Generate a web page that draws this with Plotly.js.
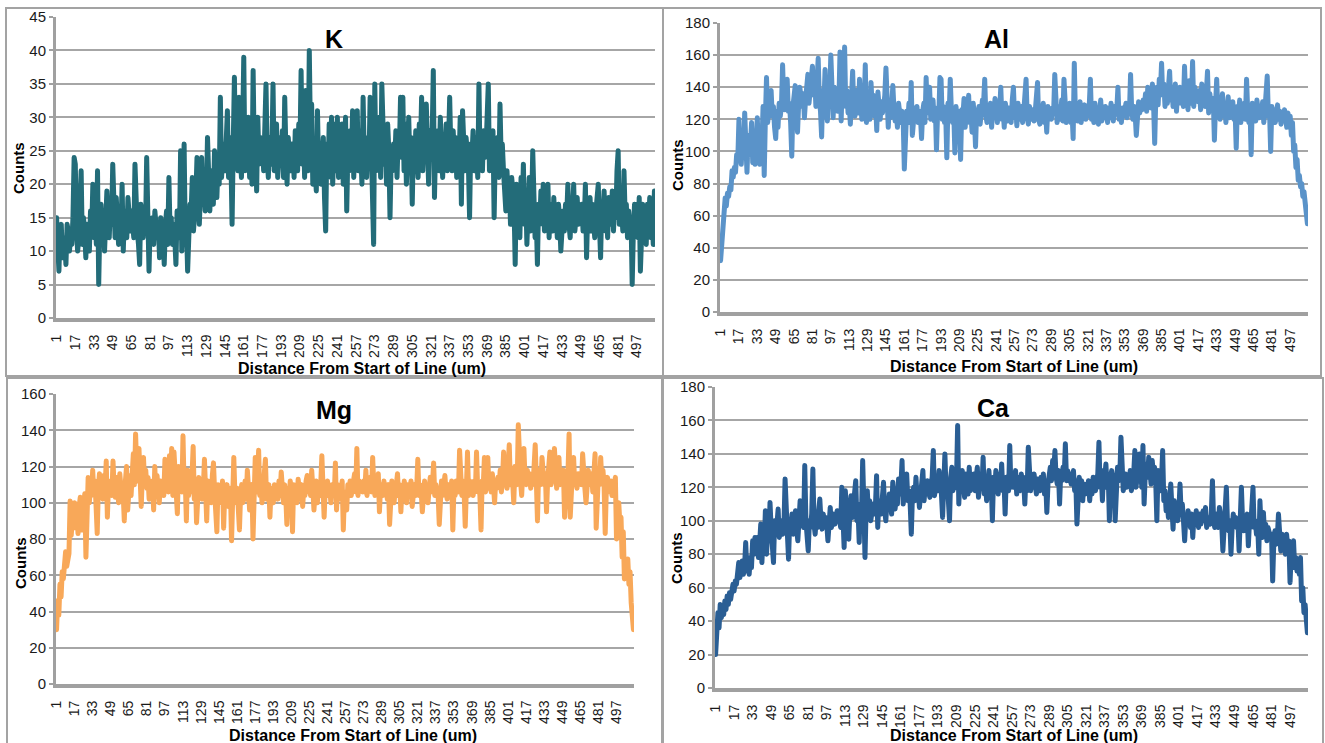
<!DOCTYPE html>
<html>
<head>
<meta charset="utf-8">
<script src="https://cdn.plot.ly/plotly-3.0.1.min.js"></script>
<style>
html,body{margin:0;padding:0;background:#fff;}
#chart{width:1325px;height:743px;}
.scatterlayer .js-line{stroke-linejoin:round !important;stroke-linecap:round !important;}
</style>
</head>
<body>
<div id="chart"></div>
<script>
// Counts along the line (one value per distance step, 1..512 um)
const K_counts = [
15,12,7,13,14,9,12,11,8,14,13,10,12,11,15,24,
23,13,10,12,16,22,11,15,13,9,14,12,10,16,13,20,
12,15,11,22,5,14,17,12,16,10,13,19,15,12,17,14,
23,16,12,18,14,11,15,13,20,10,16,14,12,18,15,13,
16,14,12,23,15,13,11,8,17,14,12,16,13,24,10,7,
14,12,15,11,16,13,12,14,9,15,12,13,8,14,16,11,
21,13,15,11,14,12,8,16,13,12,25,10,14,26,12,14,
7,14,17,16,21,13,15,18,24,15,14,19,24,17,20,16,
18,27,19,16,22,20,17,25,21,18,23,20,33,21,24,26,
22,25,31,21,27,24,14,26,36,23,29,22,33,25,21,28,
39,22,27,24,30,21,26,20,37,24,28,19,30,23,27,25,
26,22,28,35,24,21,27,23,25,35,22,26,29,21,24,27,
23,28,21,33,25,20,27,24,22,26,26,21,28,24,22,29,
25,37,23,28,21,34,26,22,40,27,32,20,25,23,19,31,
22,26,20,24,27,18,13,26,21,29,23,30,20,25,29,22,
30,21,27,24,29,20,26,30,16,25,22,28,23,31,21,27,
24,31,22,28,25,20,33,24,27,21,26,23,33,25,22,11,
35,22,28,24,30,21,35,26,23,27,20,29,25,15,24,22,
26,23,28,21,27,25,33,24,33,22,29,20,26,30,23,27,
17,26,22,28,24,21,29,25,33,22,27,24,32,23,20,28,
24,27,37,18,26,23,28,22,30,25,21,27,24,29,22,26,
33,25,22,28,24,27,21,26,23,30,17,31,25,22,27,24,
23,15,26,24,28,22,27,25,21,35,23,26,22,28,24,25,
29,35,22,26,24,28,15,25,23,27,21,32,24,26,22,20,
16,22,18,20,14,21,19,17,8,20,15,18,12,21,16,23,
14,19,11,17,21,13,16,25,18,12,15,8,17,14,19,16,
20,13,16,14,20,12,17,15,13,18,14,16,12,17,15,10,
14,16,13,17,15,20,14,12,17,16,20,13,15,18,14,16,
15,17,13,14,20,9,16,14,18,13,17,15,12,16,19,20,
14,9,17,15,19,13,16,12,18,15,14,19,13,17,15,22,
25,14,18,16,13,22,15,17,12,16,14,15,5,13,17,14,
17,12,18,7,15,17,13,16,11,17,14,18,12,16,11,19
];
const Al_counts = [
32,44,52,62,71,66,74,72,78,76,88,84,90,87,98,95,
120,100,92,108,97,124,95,87,110,98,104,118,93,100,92,106,
121,95,92,110,104,128,85,120,146,118,125,130,138,122,128,115,
108,125,115,130,122,128,154,132,126,138,145,125,130,118,97,128,
135,141,125,112,130,140,134,128,136,121,132,140,148,130,137,142,
153,135,145,128,140,158,132,125,109,138,130,151,126,119,142,135,
160,128,121,140,132,136,125,130,162,119,145,135,165,128,138,124,
130,117,136,150,126,122,138,130,124,145,128,120,134,126,154,118,
132,125,120,143,128,135,122,130,113,137,126,120,131,124,128,135,
152,125,115,130,121,128,141,126,119,124,115,130,122,118,125,120,
89,112,125,118,130,120,143,110,124,127,121,128,118,125,122,108,
125,130,118,146,124,128,140,120,126,132,119,127,101,125,122,146,
145,120,128,118,124,96,130,122,145,125,118,126,99,128,120,125,
118,95,126,122,133,115,128,120,135,118,124,112,130,121,103,126,
120,128,117,124,132,130,145,122,118,127,121,130,115,126,124,133,
122,118,128,125,140,120,126,115,130,123,119,127,124,118,132,140,
121,127,116,130,124,120,128,118,125,135,145,122,117,128,124,120,
126,119,125,131,143,120,117,127,122,130,118,125,112,128,121,126,
120,127,124,148,121,118,128,125,120,132,119,145,124,118,126,122,
130,118,125,108,155,122,127,119,124,131,118,126,122,129,120,125,
122,128,145,120,125,118,130,123,127,117,124,132,119,126,121,128,
124,118,127,121,130,125,119,128,123,126,140,120,125,118,127,122,
126,130,121,128,124,148,125,120,128,123,110,127,131,124,130,126,
132,128,136,125,140,131,138,127,142,130,105,134,140,129,145,138,
155,135,142,128,138,130,145,150,132,140,128,136,142,125,138,134,
140,130,138,128,153,132,140,126,144,135,130,156,128,140,133,137,
131,138,126,142,130,135,128,137,150,124,136,130,128,133,107,129,
145,125,131,120,128,136,122,130,118,127,134,121,129,124,131,120,
126,102,128,122,132,118,127,124,130,120,145,125,118,127,98,130,
123,128,119,132,125,121,128,124,131,118,126,145,147,122,125,100,
128,120,126,118,124,129,120,125,117,123,119,126,121,115,124,118,
122,110,118,100,104,90,95,82,85,78,80,72,75,66,60,55
];
const Mg_counts = [
30,46,38,55,48,62,58,68,73,65,70,72,101,82,92,86,
100,88,95,83,98,103,85,92,97,105,70,102,114,100,108,104,
118,105,112,98,83,108,116,104,110,102,115,108,123,92,110,106,
112,104,123,108,103,114,106,100,116,110,102,105,90,112,120,96,
108,115,104,112,127,110,138,118,112,130,106,98,115,125,110,118,
108,114,102,112,106,110,96,120,104,115,108,100,112,106,110,104,
124,110,118,106,126,112,130,104,128,115,108,94,120,110,116,106,
137,108,112,90,118,104,110,106,115,131,102,112,89,108,114,104,
110,102,108,124,96,90,112,104,108,100,115,122,106,98,84,110,
104,108,100,112,86,106,102,110,98,104,108,79,112,125,104,100,
108,96,85,104,110,100,106,112,102,118,108,96,104,110,80,104,
125,106,112,129,104,110,100,108,114,124,102,106,110,92,108,104,
100,110,106,108,102,112,104,117,106,100,110,104,88,108,102,112,
106,84,110,104,108,100,113,106,102,110,98,108,104,112,115,106,
110,104,118,108,96,106,112,100,108,104,110,126,102,92,108,106,
112,104,108,100,110,106,104,122,96,110,104,108,102,112,85,106,
104,96,110,106,112,104,108,110,116,106,130,104,112,108,110,106,
112,106,118,104,110,108,114,106,125,110,104,112,108,116,95,108,
110,104,112,106,108,102,110,88,104,112,106,100,108,110,116,104,
110,95,108,104,112,106,100,110,104,108,112,98,106,110,104,108,
124,104,110,106,95,108,112,104,110,100,108,114,106,110,122,104,
110,106,104,88,108,112,104,110,115,106,102,110,108,104,112,85,
108,104,112,110,106,129,108,104,112,106,87,110,128,104,112,108,
110,104,112,106,128,108,110,104,85,112,110,125,106,110,125,108,
112,106,116,110,100,112,108,114,110,118,106,112,128,110,114,108,
116,132,110,118,112,100,120,114,110,143,116,112,104,118,130,112,
110,118,112,116,108,114,110,120,132,112,90,118,114,110,125,116,
110,116,95,112,118,128,110,114,116,130,112,108,118,125,110,114,
112,118,92,110,114,116,138,92,112,118,125,110,114,108,116,112,
116,110,127,112,108,100,114,118,110,112,116,106,114,127,86,112,
116,110,125,112,118,110,83,108,114,106,110,112,104,108,110,114,
80,96,100,88,92,70,84,58,66,62,69,55,62,45,38,30
];
const Ca_counts = [
20,30,45,36,50,42,48,44,52,47,55,50,57,53,60,62,
58,64,62,68,75,66,70,76,68,72,87,70,74,68,78,72,
88,80,90,84,90,78,86,98,75,92,85,106,80,95,88,111,
95,88,75,100,92,98,107,90,95,100,92,96,125,98,92,77,
100,96,104,92,98,106,95,88,100,112,98,104,96,133,100,93,
82,100,96,104,131,98,92,102,96,106,113,100,95,104,98,102,
98,88,104,108,96,100,104,98,102,106,105,100,96,120,102,84,
118,104,100,89,106,115,102,108,112,124,100,106,87,110,104,136,
110,78,108,118,104,112,100,106,110,104,108,127,96,112,108,104,
114,123,106,100,112,108,116,110,104,123,112,107,114,110,125,116,
120,136,110,118,114,128,112,118,110,92,116,120,112,126,114,118,
108,118,122,130,112,120,116,124,118,114,122,126,142,115,120,124,
118,130,122,116,102,120,140,118,124,112,100,126,132,118,122,120,
124,157,110,126,118,130,122,114,128,120,116,132,118,124,120,128,
118,126,132,114,122,128,120,138,116,124,112,126,130,118,122,100,
126,118,130,122,116,128,120,134,118,124,104,126,122,118,145,120,
128,120,124,130,116,126,122,118,128,120,124,110,126,118,144,122,
118,126,120,128,124,116,125,122,118,126,120,128,116,124,105,122,
128,132,124,136,130,142,126,122,130,110,128,124,132,126,146,124,
130,124,128,122,126,130,118,124,98,120,126,118,124,112,122,116,
120,118,124,112,122,116,126,120,118,124,128,147,120,126,112,130,
126,134,120,128,100,124,130,126,122,100,128,132,124,126,150,122,
118,124,128,120,126,122,130,118,124,128,142,120,126,130,140,124,
120,145,110,128,134,126,138,130,122,136,128,132,124,100,130,126,
118,124,142,112,118,106,110,102,115,122,108,95,112,104,110,100,
106,122,104,110,100,88,102,98,106,100,96,104,90,102,98,106,
100,96,104,98,102,106,100,108,96,102,100,98,104,124,100,96,
104,100,96,108,102,98,82,100,106,120,98,94,100,80,96,104,
98,102,96,100,82,106,120,100,94,98,102,104,85,100,96,104,
120,96,100,92,98,80,112,96,90,105,92,98,88,96,94,90,
92,64,88,94,86,90,104,88,82,92,86,90,80,92,84,88,
63,80,76,88,72,78,70,74,68,78,52,60,45,50,40,33
];
const tickLabels = [1,17,33,49,65,81,97,113,129,145,161,177,193,209,225,241,257,273,289,305,321,337,353,369,385,401,417,433,449,465,481,497];
const elementNames = ['K','Al','Mg','Ca'];
const xTitle = 'Distance From Start of Line (um)';
const yTitle = 'Counts';

const W = 1325, H = 743;
const px = x => x / W;
const py = y => 1 - y / H;

const series = [K_counts, Al_counts, Mg_counts, Ca_counts];
const colors = ['#236c79', '#5a93c9', '#f8a859', '#2a5e94'];
const yMax = [45, 180, 160, 180];
const yStep = [5, 20, 20, 20];
// plot areas in pixels [left,right,top,bottom]
const boxes = [[56,655,17,318],[720,1308,23,312],[56,634,394,684],[715,1308,387,688]];
const frames = [[6,663,8,376],[663,1321,8,376],[7,662,378,760],[663,1323,378,760]];
const titlePos = [[334,39],[996,39],[334,410],[993,408]];
const xTitlePos = [[362,368],[1014,367],[353,735],[1014,735]];
const yTitlePos = [[18,168],[677,165],[20,563],[676,558]];

const traces = [];
const layout = {
  width: W, height: H,
  margin: {l:0, r:0, t:0, b:0},
  paper_bgcolor: '#fff', plot_bgcolor: '#fff',
  showlegend: false,
  font: {family: 'Arial, "Liberation Sans", sans-serif', color: '#1a1a1a'},
  shapes: [], annotations: []
};
const gridCol = '#a6a6a6';
series.forEach((vals, k) => {
  const n = k === 0 ? '' : String(k + 1);
  const distance = vals.map((_, i) => i + 1);
  traces.push({
    type: 'scatter', mode: 'lines', x: distance, y: vals,
    xaxis: 'x' + n, yaxis: 'y' + n,
    line: {color: colors[k], width: 5},
    hoverinfo: 'skip'
  });
  const b = boxes[k];
  layout['xaxis' + n] = {
    domain: [px(b[0]), px(b[1])], anchor: 'y' + n,
    range: [0.5, vals.length + 0.5], type: 'linear',
    tickmode: 'array', tickvals: tickLabels, ticktext: tickLabels.map(String),
    tickangle: -90, tickfont: {size: 14, color: '#1a1a1a'},
    ticklabelstandoff: 7,
    showgrid: false, zeroline: false,
    showline: true, linecolor: '#a0a0a0', linewidth: 4,
    ticks: '', fixedrange: true
  };
  layout['yaxis' + n] = {
    domain: [py(b[3]), py(b[2])], anchor: 'x' + n,
    range: [0, yMax[k]], dtick: yStep[k], tick0: 0,
    tickfont: {size: 15, color: '#1a1a1a'},
    showgrid: true, gridcolor: gridCol, gridwidth: 2,
    zeroline: false, showline: true, linecolor: '#a0a0a0', linewidth: 3,
    ticks: 'outside', ticklen: 4, tickwidth: 2, tickcolor: '#a0a0a0',
    fixedrange: true
  };
  const f = frames[k];
  layout.shapes.push({type: 'rect', xref: 'paper', yref: 'paper',
    x0: px(f[0]), x1: px(f[1]), y0: py(f[3]), y1: py(f[2]),
    line: {color: '#a3a3a3', width: 2}, fillcolor: 'rgba(0,0,0,0)', layer: 'below'});
  layout.annotations.push({xref: 'paper', yref: 'paper', x: px(titlePos[k][0]), y: py(titlePos[k][1]),
    xanchor: 'center', yanchor: 'middle', showarrow: false,
    text: '<b>' + elementNames[k] + '</b>', font: {size: 25, color: '#000'}});
  layout.annotations.push({xref: 'paper', yref: 'paper', x: px(xTitlePos[k][0]), y: py(xTitlePos[k][1]),
    xanchor: 'center', yanchor: 'middle', showarrow: false,
    text: '<b>' + xTitle + '</b>', font: {size: 16, color: '#000'}});
  layout.annotations.push({xref: 'paper', yref: 'paper', x: px(yTitlePos[k][0]), y: py(yTitlePos[k][1]),
    xanchor: 'center', yanchor: 'middle', showarrow: false, textangle: -90,
    text: '<b>' + yTitle + '</b>', font: {size: 15, color: '#000'}});
});

Plotly.newPlot('chart', traces, layout, {staticPlot: true, displayModeBar: false});
</script>
</body>
</html>
